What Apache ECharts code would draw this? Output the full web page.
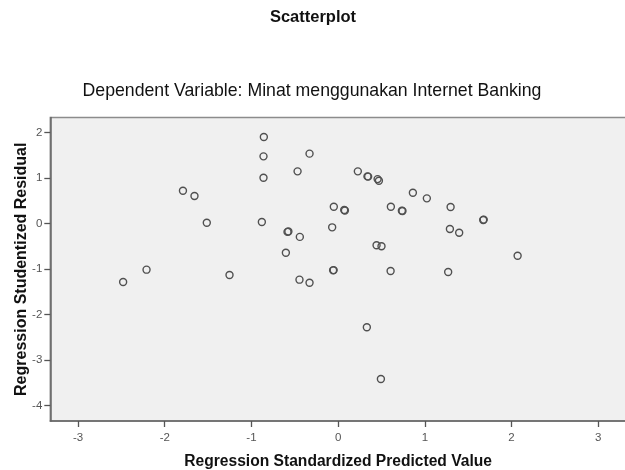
<!DOCTYPE html>
<html>
<head>
<meta charset="utf-8">
<script src="https://cdn.jsdelivr.net/npm/echarts@6/dist/echarts.min.js"></script>
<style>
html,body{margin:0;padding:0;background:#fff;}
#chart{width:625px;height:470px;}
</style>
</head>
<body>
<div id="chart"></div>
<script>
var chartTitle = 'Scatterplot';
var subTitle = 'Dependent Variable: Minat menggunakan Internet Banking';
var xAxisName = 'Regression Standardized Predicted Value';
var yAxisName = 'Regression Studentized Residual';
var xTicks = [-3, -2, -1, 0, 1, 2, 3];
var yTicks = [-4, -3, -2, -1, 0, 1, 2];

var predictedValues = [
  -2.48, -2.21, -1.79, -1.657, -1.515, -1.253, -0.88, -0.857, -0.861, -0.861,
  -0.584, -0.574, -0.603, -0.468, -0.442, -0.446, -0.33, -0.33, -0.069, -0.05,
  -0.058, -0.052, 0.07, 0.078, 0.227, 0.331, 0.338, 0.346, 0.443, 0.50,
  0.455, 0.47, 0.493, 0.605, 0.608, 0.735, 0.742, 0.862, 1.023, 1.269,
  1.297, 1.289, 1.396, 1.673, 1.679, 2.07
];
var studentizedResiduals = [
  -1.28, -1.01, 0.725, 0.61, 0.02, -1.127, 0.037, 1.905, 1.48, 1.01,
  -0.18, -0.17, -0.637, 1.15, -0.29, -1.23, 1.54, -1.297, -0.08, 0.374,
  -1.025, -1.02, 0.30, 0.29, 1.15, -2.277, 1.04, 1.035, -0.475, -0.497,
  0.98, 0.945, -3.413, -1.04, 0.374, 0.286, 0.28, 0.68, 0.557, -1.062,
  0.367, -0.116, -0.198, 0.081, 0.09, -0.703
];

var points = predictedValues.map(function (x, i) { return [x, studentizedResiduals[i]]; });
var FONT = '"Liberation Sans", Arial, sans-serif';

var chart = echarts.init(document.getElementById('chart'), null, {renderer: 'canvas'});
chart.setOption({
  animation: false,
  backgroundColor: '#ffffff',
  graphic: [
    {type: 'text', x: 313, y: 17, style: {text: chartTitle, textAlign: 'center', textVerticalAlign: 'middle', font: 'bold 16.5px ' + FONT, fill: '#111'}},
    {type: 'text', x: 312, y: 91, style: {text: subTitle, textAlign: 'center', textVerticalAlign: 'middle', font: '17.7px ' + FONT, fill: '#111'}}
  ],
  grid: {
    left: 50.3, top: 117.5, right: -1, bottom: 49,
    outerBoundsMode: 'none', containLabel: false,
    show: true, backgroundColor: '#f0f0f0', borderColor: '#8c8c8c', borderWidth: 1.5
  },
  xAxis: {
    type: 'value', min: -3.32, max: 3.32,
    name: xAxisName, nameLocation: 'middle', nameGap: 33, nameMoveOverlap: false,
    nameTextStyle: {fontFamily: FONT, fontWeight: 'bold', fontSize: 15.6, color: '#111'},
    axisLine: {show: true, onZero: false, lineStyle: {color: '#666', width: 1.5}},
    axisTick: {show: true, length: 6, customValues: xTicks, lineStyle: {color: '#555', width: 1.3}},
    axisLabel: {customValues: xTicks, fontFamily: FONT, fontSize: 11.5, color: '#555', margin: 11},
    splitLine: {show: false}
  },
  yAxis: {
    type: 'value', min: -4.336, max: 2.334,
    name: yAxisName, nameLocation: 'middle', nameGap: 21, nameMoveOverlap: false,
    nameTextStyle: {fontFamily: FONT, fontWeight: 'bold', fontSize: 16, color: '#111'},
    axisLine: {show: true, onZero: false, lineStyle: {color: '#666', width: 1.5}},
    axisTick: {show: true, length: 6, customValues: yTicks, lineStyle: {color: '#555', width: 1.3}},
    axisLabel: {customValues: yTicks, fontFamily: FONT, fontSize: 11.5, color: '#555', margin: 8},
    splitLine: {show: false}
  },
  series: [{
    type: 'scatter',
    data: points,
    symbol: 'circle',
    symbolSize: 7,
    itemStyle: {color: 'rgba(0,0,0,0)', borderColor: '#505050', borderWidth: 1.4, opacity: 1}
  }]
});
</script>
</body>
</html>
